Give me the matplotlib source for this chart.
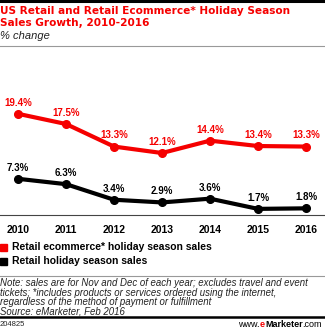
import matplotlib.pyplot as plt
from matplotlib.patches import Rectangle
from matplotlib.lines import Line2D

plt.rcParams["font.family"] = ["Liberation Sans", "DejaVu Sans"]

years = [2010, 2011, 2012, 2013, 2014, 2015, 2016]
ecommerce_growth = [19.4, 17.5, 13.3, 12.1, 14.4, 13.4, 13.3]
retail_growth = [7.3, 6.3, 3.4, 2.9, 3.6, 1.7, 1.8]

series_names = [
    "Retail ecommerce* holiday season sales",
    "Retail holiday season sales",
]
title = "US Retail and Retail Ecommerce* Holiday Season\nSales Growth, 2010-2016"
subtitle = "% change"
note = (
    "Note: sales are for Nov and Dec of each year; excludes travel and event\n"
    "tickets; *includes products or services ordered using the internet,\n"
    "regardless of the method of payment or fulfillment\n"
    "Source: eMarketer, Feb 2016"
)
chart_id = "204825"

RED = "#f50000"
BLACK = "#000000"

W, H = 325, 330
fig = plt.figure(figsize=(W / 100, H / 100), dpi=100)


def fy(py):
    # pixel row (from top) to figure fraction
    return 1 - py / H


def hline(py, color, lw):
    fig.add_artist(Line2D([0, 1], [fy(py), fy(py)], color=color, linewidth=lw,
                          transform=fig.transFigure))


# header
hline(1, BLACK, 2.2)
fig.text(0.0, fy(5.5), title, color=RED, fontsize=7.6, fontweight="bold",
         family="DejaVu Sans", va="top", ha="left", linespacing=1.32)
fig.text(0.0, fy(36), subtitle, color="#222222", fontsize=8, style="italic",
         va="center", ha="left")
hline(46, "#999999", 0.8)

# chart
ax = fig.add_axes([0, fy(215), 1, 120 / H])
ax.plot(years, ecommerce_growth, color=RED, linewidth=3, marker="o",
        markersize=5.5, solid_capstyle="round")
ax.plot(years, retail_growth, color=BLACK, linewidth=3, marker="o",
        markersize=5.5, solid_capstyle="round")

for x, v in zip(years, ecommerce_growth):
    ax.annotate(f"{v:.1f}%", (x, v), xytext=(0, 8), textcoords="offset points",
                ha="center", va="center", fontsize=7, fontweight="bold", color=RED)
for x, v in zip(years, retail_growth):
    ax.annotate(f"{v:.1f}%", (x, v), xytext=(0, 8), textcoords="offset points",
                ha="center", va="center", fontsize=7, fontweight="bold", color=BLACK)

ax.set_xlim(2009.625, 2016.396)
ax.set_ylim(0.56, 22.9)
ax.set_xticks(years)
ax.set_xticklabels([str(y) for y in years], fontsize=7.5, fontweight="bold")
ax.tick_params(axis="x", length=0, pad=7)
ax.set_yticks([])
for side in ["top", "left", "right"]:
    ax.spines[side].set_visible(False)
ax.spines["bottom"].set_color("#444444")
ax.spines["bottom"].set_linewidth(0.8)
ax.patch.set_alpha(0)

# legend
for py, color, name in [(247, RED, series_names[0]), (261, BLACK, series_names[1])]:
    fig.add_artist(Rectangle((0, fy(py + 3.5)), 7 / W, 7 / H, color=color,
                             transform=fig.transFigure))
    fig.text(12 / W, fy(py), name, fontsize=7.5, fontweight="bold",
             va="center", ha="left")

hline(276, "#999999", 0.8)
fig.text(0.0, fy(278), note, fontsize=6.9, style="italic", color="#222222",
         va="top", ha="left", linespacing=0.95)

# footer
hline(317, BLACK, 1.8)
fig.text(0.0, fy(324.5), chart_id, fontsize=5.5, va="center", ha="left",
         color="#222222")

renderer = fig.canvas.get_renderer()
x_right = 322
pieces = [(".com", BLACK, "normal"), ("Marketer", BLACK, "bold"),
          ("e", RED, "bold"), ("www.", BLACK, "normal")]
for txt, color, weight in pieces:
    t = fig.text(x_right / W, fy(324.5), txt, fontsize=6.5, color=color,
                 fontweight=weight, va="center", ha="right")
    x_right -= t.get_window_extent(renderer).width

fig.savefig("out.png", dpi=100)
